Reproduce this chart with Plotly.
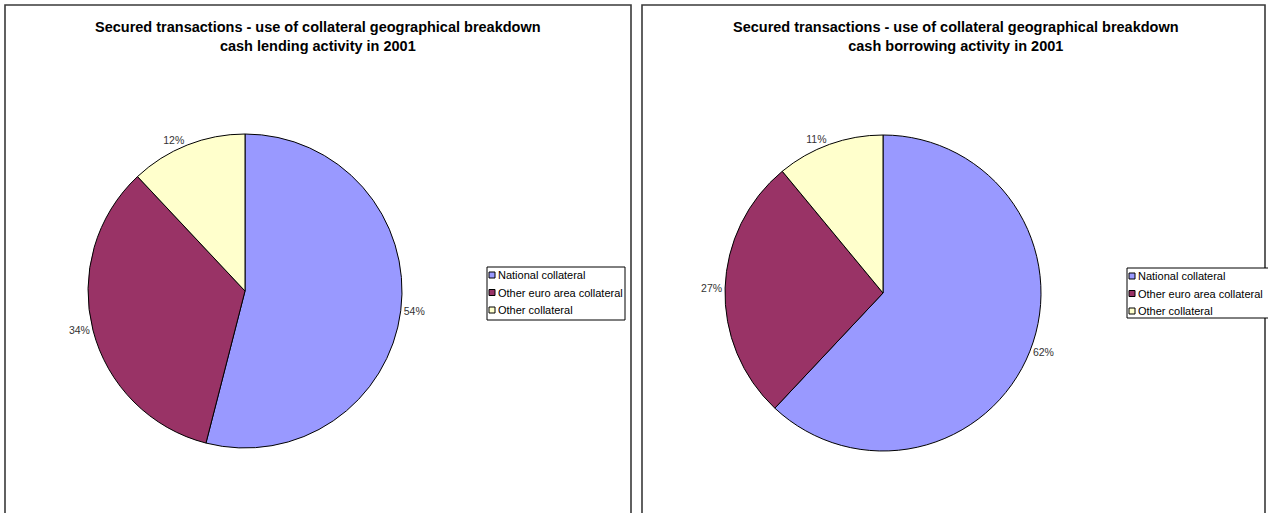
import plotly.graph_objects as go

W, H = 1268, 513

categories = ["National collateral", "Other euro area collateral", "Other collateral"]
lending_share = [54, 34, 12]
borrowing_share = [62, 27, 11]
colors = ["#9999FF", "#993366", "#FFFFCC"]

title_top = "Secured transactions - use of collateral geographical breakdown"
title_lending = "cash lending activity in 2001"
title_borrowing = "cash borrowing activity in 2001"


def px_x(v):
    return v / W


def px_y(v):
    return 1 - v / H


def pie(values, cx, cy, r):
    return go.Pie(
        labels=categories,
        values=values,
        sort=False,
        direction="clockwise",
        rotation=0,
        marker=dict(colors=colors, line=dict(color="black", width=1)),
        texttemplate="%{percent:.0%}",
        textposition="outside",
        outsidetextfont=dict(family="Arial", size=10.5, color="#333"),
        domain=dict(x=[px_x(cx - r), px_x(cx + r)], y=[px_y(cy + r), px_y(cy - r)]),
        showlegend=False,
        hoverinfo="label+percent",
    )


fig = go.Figure()
fig.add_trace(pie(lending_share, 245, 291, 157))
fig.add_trace(pie(borrowing_share, 883, 293, 158))

shapes = [
    # chart-area frames
    dict(type="rect", xref="paper", yref="paper",
         x0=px_x(5), x1=px_x(631), y0=px_y(520), y1=px_y(5),
         line=dict(color="#3a3a3a", width=1.6)),
    dict(type="rect", xref="paper", yref="paper",
         x0=px_x(642), x1=px_x(1265), y0=px_y(520), y1=px_y(5),
         line=dict(color="#3a3a3a", width=1.6)),
]
annotations = [
    dict(text=f"<b>{title_top}<br>{title_lending}</b>", x=px_x(318), y=px_y(36),
         xref="paper", yref="paper", xanchor="center", yanchor="middle", align="center",
         showarrow=False, font=dict(family="Arial", size=14.5, color="black")),
    dict(text=f"<b>{title_top}<br>{title_borrowing}</b>", x=px_x(956), y=px_y(36),
         xref="paper", yref="paper", xanchor="center", yanchor="middle", align="center",
         showarrow=False, font=dict(family="Arial", size=14.5, color="black")),
]


def add_legend(left, top, right, bottom, first_row, step):
    shapes.append(dict(type="rect", xref="paper", yref="paper",
                       x0=px_x(left), x1=px_x(right), y0=px_y(bottom), y1=px_y(top),
                       line=dict(color="black", width=1), fillcolor="white", layer="above"))
    for i, (name, col) in enumerate(zip(categories, colors)):
        yc = first_row + i * step
        shapes.append(dict(type="rect", xref="paper", yref="paper",
                           x0=px_x(left + 2), x1=px_x(left + 8),
                           y0=px_y(yc + 3), y1=px_y(yc - 3),
                           line=dict(color="black", width=1), fillcolor=col, layer="above"))
        annotations.append(dict(text=name, x=px_x(left + 9), y=px_y(yc),
                                xref="paper", yref="paper", xanchor="left", yanchor="middle",
                                showarrow=False,
                                font=dict(family="Arial", size=11, color="black")))


add_legend(487, 267, 625, 320, 275, 17.5)
add_legend(1127, 268, 1270, 318, 276, 17.5)

fig.update_layout(
    width=W,
    height=H,
    margin=dict(l=0, r=0, t=0, b=0),
    paper_bgcolor="white",
    plot_bgcolor="white",
    shapes=shapes,
    annotations=annotations,
)

fig.write_html("out.html")
